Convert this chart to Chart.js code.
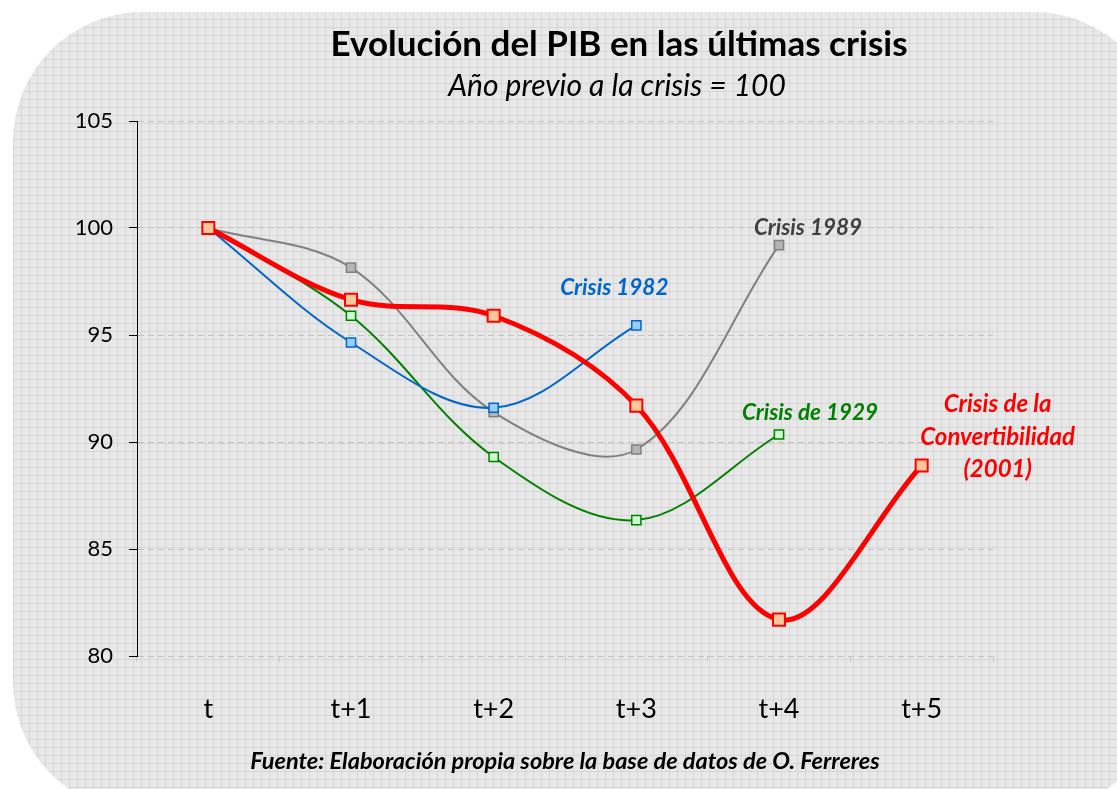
<!DOCTYPE html>
<html>
<head>
<meta charset="utf-8">
<script src="https://cdn.jsdelivr.net/npm/chart.js@4.4.1/dist/chart.umd.min.js"></script>
<style>
  html, body { margin: 0; padding: 0; background: #fff; overflow: hidden; }
  #wrap { position: relative; width: 1117px; height: 789px; overflow: hidden; }
  #bg {
    position: absolute; left: 13px; top: 12px; width: 1150px; height: 800px;
    border-radius: 130px;
    background-color: #e8e8e8;
    background-image:
      repeating-linear-gradient(0deg, #d6d6d6 0 1px, transparent 1px 8px),
      repeating-linear-gradient(90deg, #d6d6d6 0 1px, transparent 1px 8px);
  }
  #chart { position: absolute; left: 0; top: 0; }
</style>
</head>
<body>
<div id="wrap">
  <div id="bg"></div>
  <canvas id="chart" width="1117" height="789"></canvas>
</div>
<script>
const categories = ['t', 't+1', 't+2', 't+3', 't+4', 't+5'];
const crisis2001 = [100, 96.65, 95.9, 91.7, 81.7, 88.9];
const crisis1982 = [100, 94.65, 91.6, 95.45];
const crisis1989 = [100, 98.15, 91.4, 89.65, 99.2];
const crisis1929 = [100, 95.9, 89.3, 86.35, 90.35];
const yMin = 80, yMax = 105, yStep = 5;

const FONT = 'Lato, "Open Sans", sans-serif';

// series name labels, placed next to the last point of each series
const seriesLabels = [
  { idx: 0, lines: ['Crisis de la', 'Convertibilidad', '(2001)'], color: '#ff0000', size: 24, dx: 76, dy: -61, lh: 32.5 },
  { idx: 1, lines: ['Crisis 1982'], color: '#0066cc', size: 22.5, dx: -22, dy: -38 },
  { idx: 2, lines: ['Crisis 1989'], color: '#404040', size: 22.5, dx: 29, dy: -17 },
  { idx: 3, lines: ['Crisis de 1929'], color: '#008000', size: 22.5, dx: 31, dy: -22 },
];

const textPlugin = {
  id: 'texts',
  afterDatasetsDraw(chart) {
    const ctx = chart.ctx;
    ctx.save();
    ctx.textAlign = 'center';
    ctx.textBaseline = 'middle';
    ctx.fillStyle = '#000';
    ctx.font = 'bold 35px ' + FONT;
    ctx.fillText('Evolución del PIB en las últimas crisis', 619, 45);
    ctx.font = 'italic 30px ' + FONT;
    ctx.fillText('Año previo a la crisis = 100', 617, 86);
    ctx.font = 'bold italic 23.5px ' + FONT;
    ctx.fillText('Fuente: Elaboración propia sobre la base de datos de O. Ferreres', 565, 761);

    seriesLabels.forEach(l => {
      const pts = chart.getDatasetMeta(l.idx).data;
      const p = pts[pts.length - 1];
      ctx.font = 'bold italic ' + l.size + 'px ' + FONT;
      ctx.fillStyle = l.color;
      l.lines.forEach((s, i) => {
        ctx.fillText(s, p.x + l.dx, p.y + l.dy + i * (l.lh || 0));
      });
    });
    ctx.restore();
  }
};

function series(label, data, color, fill, width, size) {
  return {
    label: label,
    data: data,
    borderColor: color,
    borderWidth: width,
    backgroundColor: fill,
    pointStyle: 'rect',
    pointRadius: size,
    pointBorderWidth: width > 3 ? 2 : 1.5,
    pointBorderColor: color,
    pointBackgroundColor: fill,
    tension: 0.35,
    fill: false,
  };
}

new Chart(document.getElementById('chart'), {
  type: 'line',
  data: {
    labels: categories,
    datasets: [
      series('Crisis de la Convertibilidad (2001)', crisis2001, '#ff0000', '#fcc79b', 5, 8.5),
      series('Crisis 1982', crisis1982, '#0066cc', '#99ccff', 2, 6.5),
      series('Crisis 1989', crisis1989, '#808080', '#b4b4b4', 2, 6.5),
      series('Crisis de 1929', crisis1929, '#008000', '#ccffcc', 2, 6.5),
    ]
  },
  options: {
    responsive: false,
    animation: false,
    layout: { padding: { top: 121, right: 124, bottom: 0, left: 0 } },
    plugins: {
      legend: { display: false },
      tooltip: { enabled: false },
    },
    scales: {
      x: {
        offset: true,
        afterFit(scale) { scale.height = 133; },
        grid: {
          offset: true,
          drawOnChartArea: false,
          drawTicks: true,
          tickLength: 6,
          tickColor: '#c8c8c8',
        },
        border: { display: false },
        ticks: { color: '#000', padding: 31, font: { family: FONT, size: 27 } },
      },
      y: {
        min: yMin,
        max: yMax,
        afterFit(scale) { scale.width = 137; },
        ticks: { stepSize: yStep, color: '#000', padding: 16, font: { family: FONT, size: 22 } },
        grid: {
          color: '#c2c2c2',
          tickLength: 8,
          tickColor: '#000',
          tickBorderDash: [],
        },
        border: { display: true, color: '#000', width: 1, dash: [6, 4] },
      }
    }
  },
  plugins: [textPlugin]
});
</script>
</body>
</html>
